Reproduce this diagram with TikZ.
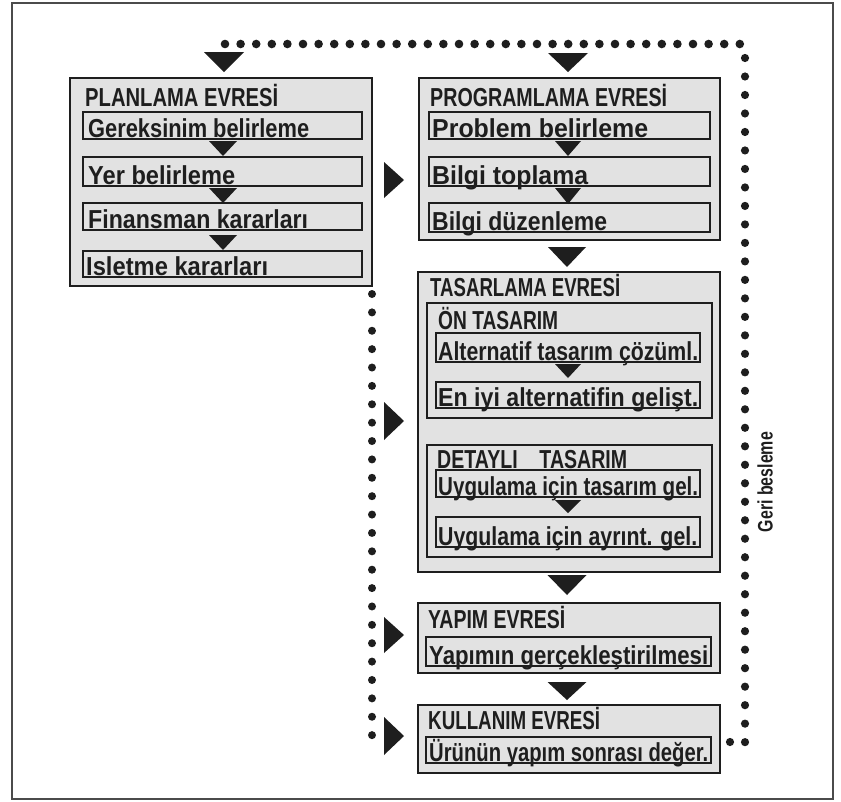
\documentclass[tikz,border=0pt]{standalone}
\usepackage{fontspec}
\setmainfont{Liberation Sans}
\usetikzlibrary{fit}
\definecolor{ink}{HTML}{1E1E1E}
\definecolor{paper}{HTML}{E2E2E2}
\tikzset{
  bigbox/.style={draw=ink, fill=paper, line width=2.6pt, inner sep=0pt},
  subbox/.style={draw=ink, fill=paper, line width=2.6pt, inner sep=0pt},
  txt/.style={inner sep=0pt, text=ink, font=\bfseries\fontsize{26}{26}\selectfont},
  fbtxt/.style={inner sep=0pt, text=ink, font=\bfseries\fontsize{21}{21}\selectfont},
  fbdot/.style={fill=ink},
}
\newcommand\lbl[4]{\node[txt, anchor=base west] (#1) at (#2) {\resizebox{#3pt}{\height}{#4}};}
\newcommand\bx[4]{\node[#2, fit={#3 #4}] (#1) {};}
\newcommand\dtri[4]{\fill[ink] (#1-#3/2,#2) -- (#1+#3/2,#2) -- (#1,#2+#4) -- cycle;}
\newcommand\rtri[4]{\fill[ink] (#1,#2-#4/2) -- (#1,#2+#4/2) -- (#1+#3,#2) -- cycle;}
\begin{document}
\begin{tikzpicture}[x=1pt, y=-1pt]
\useasboundingbox (0,0) rectangle (841,801);
\fill[white] (0,0) rectangle (841,801);
\draw[line width=2pt, ink!80] (12,3) rectangle (833,799);

% ---- PLANLAMA
\bx{plan}{bigbox}{(70,78)}{(372,286)}
\bx{p1}{subbox}{(83,112)}{(362,139)}
\bx{p2}{subbox}{(83,157)}{(362,186)}
\bx{p3}{subbox}{(83,203)}{(362,230)}
\bx{p4}{subbox}{(83,251)}{(362,277)}
% ---- PROGRAMLAMA
\bx{prog}{bigbox}{(419,78)}{(720,240)}
\bx{g1}{subbox}{(429,112)}{(710,139)}
\bx{g2}{subbox}{(429,157)}{(710,186)}
\bx{g3}{subbox}{(429,203)}{(710,232)}
% ---- TASARLAMA
\bx{tas}{bigbox}{(418,272)}{(720,572)}
\bx{on}{subbox}{(427,303)}{(712,418)}
\bx{o1}{subbox}{(436,333)}{(700,362)}
\bx{o2}{subbox}{(436,382)}{(700,408)}
\bx{det}{subbox}{(427,445)}{(712,557)}
\bx{d1}{subbox}{(436,470)}{(700,497)}
\bx{d2}{subbox}{(436,517)}{(700,547)}
% ---- YAPIM
\bx{yap}{bigbox}{(418,603)}{(720,673)}
\bx{y1}{subbox}{(426,637)}{(711,666)}
% ---- KULLANIM
\bx{kul}{bigbox}{(418,705)}{(720,773)}
\bx{k1}{subbox}{(426,737)}{(711,763)}

% ---- big down triangles
\dtri{224}{52}{40}{20}
\dtri{568}{53}{40}{19}
\dtri{567}{247}{38}{20}
\dtri{567}{575}{39}{20}
\dtri{567}{682}{39}{18}
% ---- small down triangles
\dtri{223}{141}{28}{15}
\dtri{223}{188}{28}{15}
\dtri{223}{235}{28}{15}
\dtri{568}{141}{26}{15}
\dtri{568}{188}{26}{16}
\dtri{568}{364}{26}{14}
\dtri{568}{500}{26}{13}
% ---- right-pointing triangles
\rtri{384}{180}{20}{36}
\rtri{384}{421}{20}{38}
\rtri{384}{635}{20}{36}
\rtri{384}{736}{20}{38}

% ---- feedback dotted line
\coordinate (fbStart) at (kul.east |- 0,742);
\coordinate (fbCorner) at (745,742);
\coordinate (fbTop) at (745,44);
\foreach \i in {0,...,33} \fill[fbdot] (225+\i*15.6,44) circle (4.3pt);
\foreach \i in {0,...,37} \fill[fbdot] (745,58+\i*18.49) circle (4.1pt);
\fill[fbdot] (730,742) circle (4.1pt);
% ---- left dotted line
\foreach \i in {0,...,24} \fill[fbdot] (372,294+\i*18.38) circle (4pt);

% ---- texts
\lbl{tPlan}{85,106}{193}{PLANLAMA EVRESİ}
\lbl{tp1}{88,137}{221}{Gereksinim belirleme}
\lbl{tp2}{88,184}{147}{Yer belirleme}
\lbl{tp3}{88,228}{220}{Finansman kararları}
\lbl{tp4}{86,275}{182}{Isletme kararları}
\lbl{tProg}{430,106}{237}{PROGRAMLAMA EVRESİ}
\lbl{tg1}{432,137}{216}{Problem belirleme}
\lbl{tg2}{432,184}{156}{Bilgi toplama}
\lbl{tg3}{432,230}{175}{Bilgi düzenleme}
\lbl{tTas}{430,296}{190}{TASARLAMA EVRESİ}
\lbl{tOn}{438,329}{120}{ÖN TASARIM}
\lbl{to1}{438,360}{260}{Alternatif tasarım çözüml.}
\lbl{to2}{438,406}{260}{En iyi alternatifin gelişt.}
\lbl{tDet}{437,468}{190}{DETAYLI\ \ \ \ TASARIM}
\lbl{td1}{438,495}{260}{Uygulama için tasarım gel.}
\lbl{td2}{438,545}{259}{Uygulama için ayrınt. gel.}
\lbl{tYap}{428,628}{137}{YAPIM EVRESİ}
\lbl{ty1}{429,664}{279}{Yapımın gerçekleştirilmesi}
\lbl{tKul}{428,729}{172}{KULLANIM EVRESİ}
\lbl{tk1}{429,761}{279}{Ürünün yapım sonrası değer.}
\node[fbtxt, rotate=90] (fb) at (765,482) {\resizebox{100pt}{\height}{Geri besleme}};
\end{tikzpicture}
\end{document}
